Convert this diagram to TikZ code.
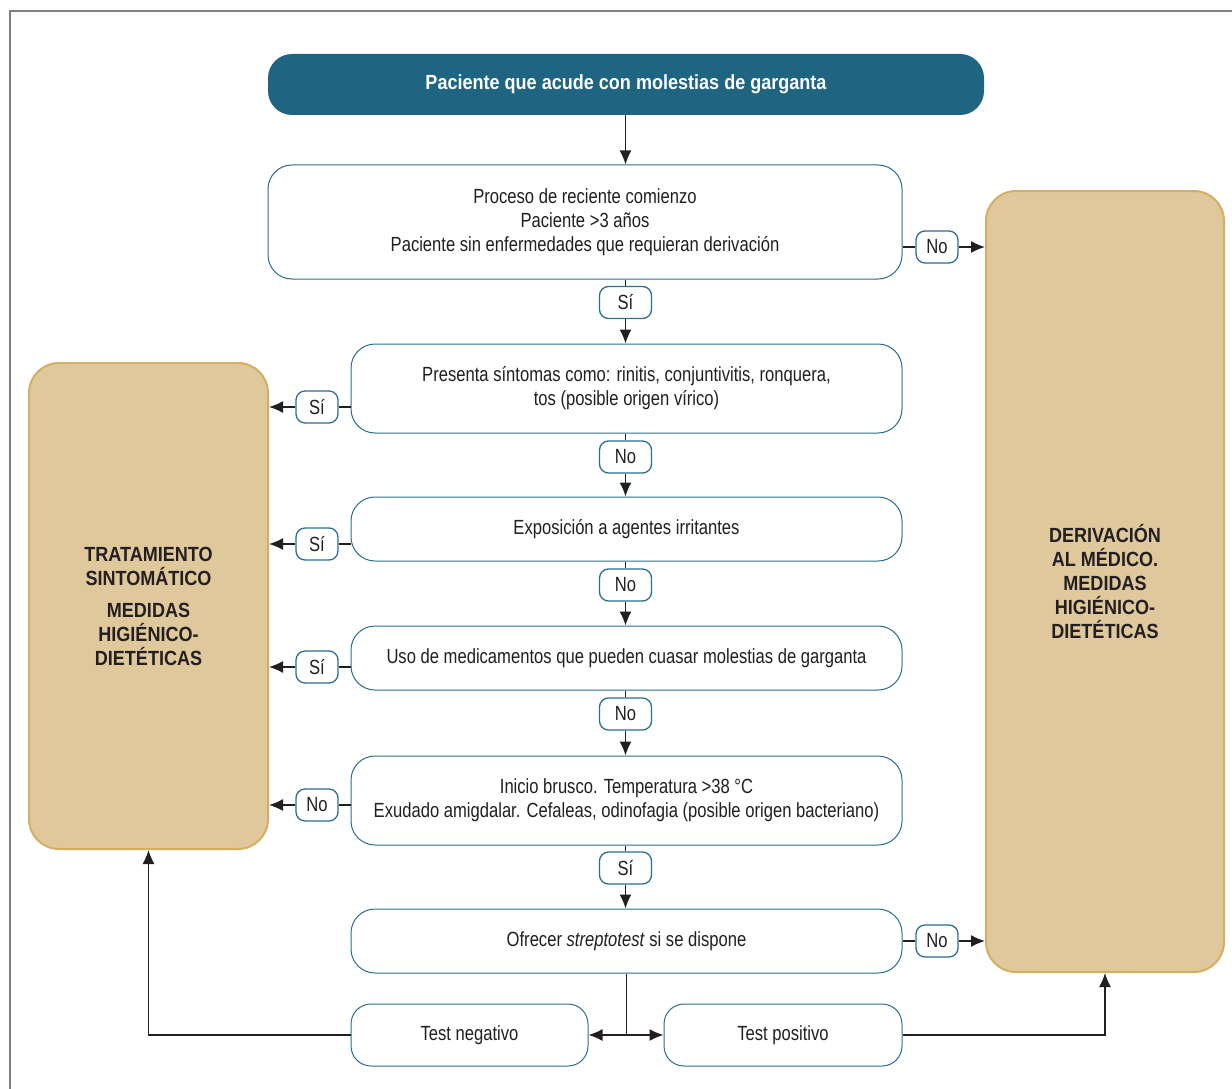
\documentclass[tikz,border=0pt]{standalone}
\usepackage{fontspec}
\setmainfont{Liberation Sans}[FakeStretch=0.81]
\newfontfamily\hdfont{Liberation Sans}[FakeStretch=0.88]
\usetikzlibrary{arrows.meta}
\definecolor{boxline}{HTML}{2B6E8E}
\definecolor{headfill}{HTML}{1F6481}
\definecolor{tanfill}{HTML}{DFC99C}
\definecolor{tanline}{HTML}{D3AE63}
\definecolor{txt}{HTML}{231F20}
\definecolor{framegray}{HTML}{7F7F7F}
\begin{document}
\begin{tikzpicture}[x=1pt,y=-1pt,
  body/.style={font=\fontsize{20.5}{24}\selectfont, text=txt},
  stepbox/.style={body, draw=boxline, line width=1pt, rounded corners=24pt, fill=white, align=center, inner sep=0pt},
  headbox/.style={fill=headfill, draw=none, rounded corners=24pt, text=white, font=\hdfont\bfseries\fontsize{20.5}{24}\selectfont, inner sep=0pt},
  bigbox/.style={fill=tanfill, draw=tanline, line width=2pt, rounded corners=30pt, align=center, inner sep=0pt, text=txt, font=\hdfont\bfseries\fontsize{20.5}{24}\selectfont},
  lab/.style={body, draw=boxline, line width=1.3pt, rounded corners=9pt, fill=white, inner sep=0pt, minimum height=32pt},
  vlab/.style={lab, minimum width=52pt},
  hlab/.style={lab, minimum width=42pt},
  conn/.style={draw=txt, line width=1.3pt},
  arr/.style={conn, -{Latex[length=14pt,width=12pt]}}
]
\useasboundingbox (0,0) rectangle (1232,1089);
\draw[framegray, line width=1.4pt] (10,1089) -- (10,11) -- (1232,11);

% main nodes
\node[headbox, minimum width=716pt, minimum height=61pt] (hd) at (626,84.5) {Paciente que acude con molestias de garganta};
\node[stepbox, minimum width=634pt, minimum height=114pt] (b1) at (585,222)
  {Proceso de reciente comienzo\\Paciente >3 años\\Paciente sin enfermedades que requieran derivación};
\node[stepbox, minimum width=551pt, minimum height=89pt] (b2) at (626.5,388.5)
  {Presenta síntomas como: rinitis, conjuntivitis, ronquera,\\tos (posible origen vírico)};
\node[stepbox, minimum width=551pt, minimum height=64pt] (b3) at (626.5,529) {Exposición a agentes irritantes};
\node[stepbox, minimum width=551pt, minimum height=64pt] (b4) at (626.5,658) {Uso de medicamentos que pueden cuasar molestias de garganta};
\node[stepbox, minimum width=551pt, minimum height=89pt] (b5) at (626.5,800.5)
  {Inicio brusco. Temperatura >38 °C\\Exudado amigdalar. Cefaleas, odinofagia (posible origen bacteriano)};
\node[stepbox, minimum width=551pt, minimum height=64pt] (b6) at (626.5,941) {Ofrecer \textit{streptotest} si se dispone};
\node[stepbox, minimum width=237pt, minimum height=62pt, rounded corners=20pt] (tn) at (469.5,1035) {Test negativo};
\node[stepbox, minimum width=238pt, minimum height=62pt, rounded corners=20pt] (tp) at (783,1035) {Test positivo};

\node[bigbox, minimum width=239pt, minimum height=486pt] (lbox) at (148.5,606)
  {TRATAMIENTO\\SINTOMÁTICO\\[8pt]MEDIDAS\\HIGIÉNICO-\\DIETÉTICAS};
\node[bigbox, minimum width=238pt, minimum height=781pt] (rbox) at (1105,581.5)
  {DERIVACIÓN\\AL MÉDICO.\\MEDIDAS\\HIGIÉNICO-\\DIETÉTICAS};

% labels
\node[vlab] (s1) at (625.5,302.5) {Sí};
\node[vlab] (n2) at (625.5,457) {No};
\node[vlab] (n3) at (625.5,585) {No};
\node[vlab] (n4) at (625.5,714) {No};
\node[vlab] (s5) at (625.5,868) {Sí};
\node[hlab] (r1) at (937,247) {No};
\node[hlab] (r6) at (937,941) {No};
\node[hlab] (l2) at (317,407) {Sí};
\node[hlab] (l3) at (317,544) {Sí};
\node[hlab] (l4) at (317,667) {Sí};
\node[hlab] (l5) at (317,805) {No};

% vertical flow
\draw[arr] (hd.south -| s1) -- (b1.north -| s1);
\draw[conn] (b1.south -| s1) -- (s1.north);
\draw[arr] (s1.south) -- (b2.north -| s1);
\draw[conn] (b2.south -| n2) -- (n2.north);
\draw[arr] (n2.south) -- (b3.north -| n2);
\draw[conn] (b3.south -| n3) -- (n3.north);
\draw[arr] (n3.south) -- (b4.north -| n3);
\draw[conn] (b4.south -| n4) -- (n4.north);
\draw[arr] (n4.south) -- (b5.north -| n4);
\draw[conn] (b5.south -| s5) -- (s5.north);
\draw[arr] (s5.south) -- (b6.north -| s5);

% right side
\draw[conn] (b1.east |- r1) -- (r1.west);
\draw[arr] (r1.east) -- (rbox.west |- r1);
\draw[conn] (b6.east |- r6) -- (r6.west);
\draw[arr] (r6.east) -- (rbox.west |- r6);

% left side
\draw[conn] (b2.west |- l2) -- (l2.east);
\draw[arr] (l2.west) -- (lbox.east |- l2);
\draw[conn] (b3.west |- l3) -- (l3.east);
\draw[arr] (l3.west) -- (lbox.east |- l3);
\draw[conn] (b4.west |- l4) -- (l4.east);
\draw[arr] (l4.west) -- (lbox.east |- l4);
\draw[conn] (b5.west |- l5) -- (l5.east);
\draw[arr] (l5.west) -- (lbox.east |- l5);

% bottom tests
\coordinate (split) at (b6.south |- tn);
\draw[conn] (b6.south) -- (split);
\draw[arr] (split) -- (tn.east);
\draw[arr] (split) -- (tp.west);
\draw[arr] (tn.west) -| (lbox.south);
\draw[arr] (tp.east) -| (rbox.south);
\end{tikzpicture}
\end{document}
